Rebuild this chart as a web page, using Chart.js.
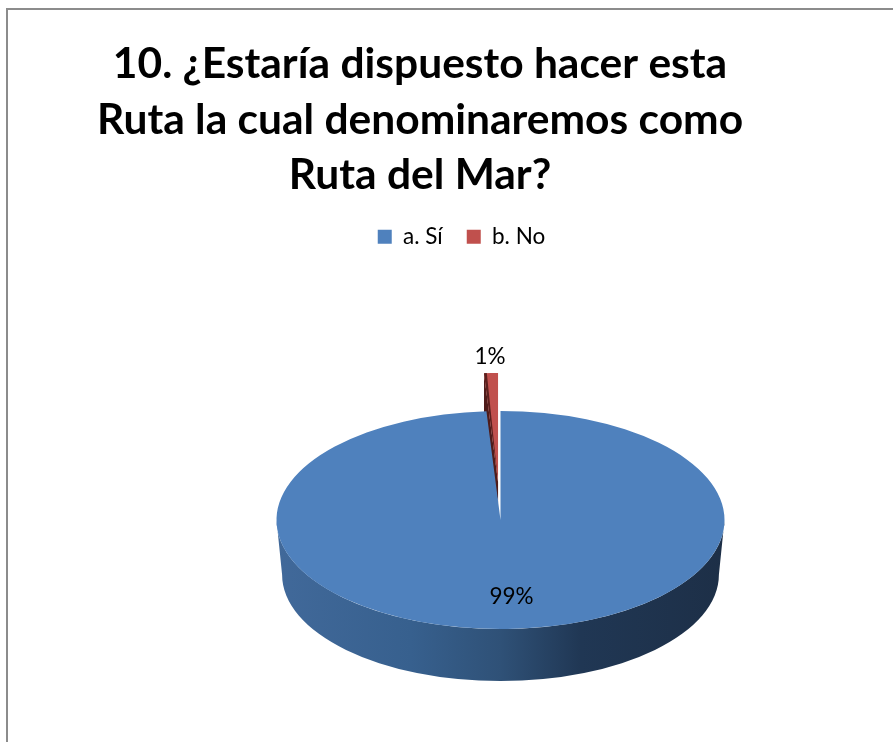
<!DOCTYPE html>
<html>
<head>
<meta charset="utf-8">
<style>
html,body{margin:0;padding:0;background:#fff;overflow:hidden;width:893px;height:742px}
#frame{position:absolute;left:6px;top:8px;width:1000px;height:1000px;border:2px solid #8c8c8c}
#wrap{position:absolute;left:0;top:0;width:893px;height:742px}
</style>
<script src="https://cdn.jsdelivr.net/npm/chart.js@4"></script>
</head>
<body>
<div id="frame"></div>
<div id="wrap"><canvas id="c" width="893" height="742"></canvas></div>
<script>
const titleLines = ["10. ¿Estaría dispuesto hacer esta", "Ruta la cual denominaremos como", "Ruta del Mar?"];
const categories = ["a. Sí", "b. No"];
const seriesValues = [99, 1];
const sliceColors = ["#4f81bd", "#c0504d"];

const TILT = 0.487, CENTER_Y = 520, DEPTH = 52, EXPLODE = 78;
const FONT = "Lato, Carlito, 'Open Sans', sans-serif";

const pie3d = {
  id: "pie3d",
  afterLayout(chart) {
    chart.titleBlock.left = 0; chart.titleBlock.right = 840;
    chart.legend.left = 30; chart.legend.right = 893;
    chart.legend.top -= 8; chart.legend.bottom -= 8;
  },
  afterDatasetUpdate(chart) {
    const red = chart.getDatasetMeta(0).data[1];
    const mid = (red.startAngle + red.endAngle) / 2;
    if (!red.__wrapped) {
      const orig = red.draw;
      red.draw = function (ctx, area) {
        ctx.save();
        ctx.translate(Math.cos(mid) * EXPLODE, Math.sin(mid) * EXPLODE);
        orig.call(this, ctx, area);
        ctx.restore();
      };
      red.__wrapped = true;
    }
  },
  beforeDatasetsDraw(chart) {
    const ctx = chart.ctx, arcs = chart.getDatasetMeta(0).data, a = arcs[0], red = arcs[1];
    const r = a.outerRadius, x = a.x;
    const g = ctx.createLinearGradient(x - r, 0, x + r, 0);
    g.addColorStop(0, "#41699a");
    g.addColorStop(0.3, "#37608e");
    g.addColorStop(0.5, "#2f5177");
    g.addColorStop(0.68, "#203754");
    g.addColorStop(1, "#1d2f47");
    ctx.save();
    ctx.fillStyle = g;
    ctx.beginPath();
    ctx.ellipse(x, CENTER_Y, r, r * TILT, 0, 0, Math.PI);
    const rb = r * 0.975;
    ctx.ellipse(x, CENTER_Y + DEPTH + (r - rb) * TILT, rb, rb * TILT, 0, Math.PI, 0, true);
    ctx.closePath();
    ctx.fill();

    // cut face of the exploded slice, seen through the gap it leaves
    const mid = (red.startAngle + red.endAngle) / 2;
    const tipX = red.x + Math.cos(mid) * EXPLODE;
    const tipY = CENTER_Y + TILT * Math.sin(mid) * EXPLODE;
    const outX = tipX + Math.cos(red.startAngle) * red.outerRadius;
    const outY = tipY + TILT * Math.sin(red.startAngle) * red.outerRadius;
    ctx.fillStyle = "#4f1c1a";
    ctx.beginPath();
    ctx.moveTo(outX, outY);
    ctx.lineTo(tipX, tipY);
    ctx.lineTo(tipX, tipY + DEPTH * 0.4);
    ctx.lineTo(outX, outY + DEPTH);
    ctx.closePath();
    ctx.fill();
    ctx.restore();

    ctx.save();
    ctx.translate(0, CENTER_Y);
    ctx.scale(1, TILT);
    ctx.translate(0, -a.y);
  },
  afterDatasetsDraw(chart) {
    const ctx = chart.ctx, red = chart.getDatasetMeta(0).data[1];
    const mid = (red.startAngle + red.endAngle) / 2;
    ctx.beginPath();
    const ox = red.x + Math.cos(mid) * EXPLODE, oy = red.y + Math.sin(mid) * EXPLODE;
    ctx.moveTo(ox, oy);
    ctx.arc(ox, oy, red.outerRadius, red.startAngle, red.startAngle + (red.endAngle - red.startAngle) * 0.2);
    ctx.closePath();
    ctx.fillStyle = "#5b201e";
    ctx.fill();
    ctx.restore();

    const arcs = chart.getDatasetMeta(0).data;
    ctx.save();
    ctx.font = "22.5px " + FONT;
    ctx.fillStyle = "#000";
    ctx.textAlign = "center";
    ctx.textBaseline = "middle";
    const frac = [0.706, 1.5], dx = [6, 0];
    arcs.forEach((arc, i) => {
      const m = (arc.startAngle + arc.endAngle) / 2;
      const px = arc.x + Math.cos(m) * arc.outerRadius * frac[i] + dx[i];
      const py = CENTER_Y + Math.sin(m) * arc.outerRadius * TILT * frac[i];
      ctx.fillText(Math.round(seriesValues[i]) + "%", px, py);
    });
    ctx.restore();
  }
};

new Chart(document.getElementById("c"), {
  type: "pie",
  data: {
    labels: categories,
    datasets: [{
      data: seriesValues,
      backgroundColor: sliceColors,
      borderWidth: 0,
      radius: 224
    }]
  },
  options: {
    responsive: false,
    animation: false,
    layout: { padding: { left: 108, top: 0 } },
    plugins: {
      tooltip: { enabled: false },
      title: {
        display: true,
        text: titleLines,
        color: "#000",
        font: { family: FONT, size: 42.5, weight: "bold", lineHeight: 1.306 },
        padding: { top: 37, bottom: 6 }
      },
      legend: {
        position: "top",
        labels: {
          color: "#000",
          font: { family: FONT, size: 22.5 },
          boxWidth: 14,
          boxHeight: 14,
          padding: 24
        }
      }
    }
  },
  plugins: [pie3d]
});
</script>
</body>
</html>
